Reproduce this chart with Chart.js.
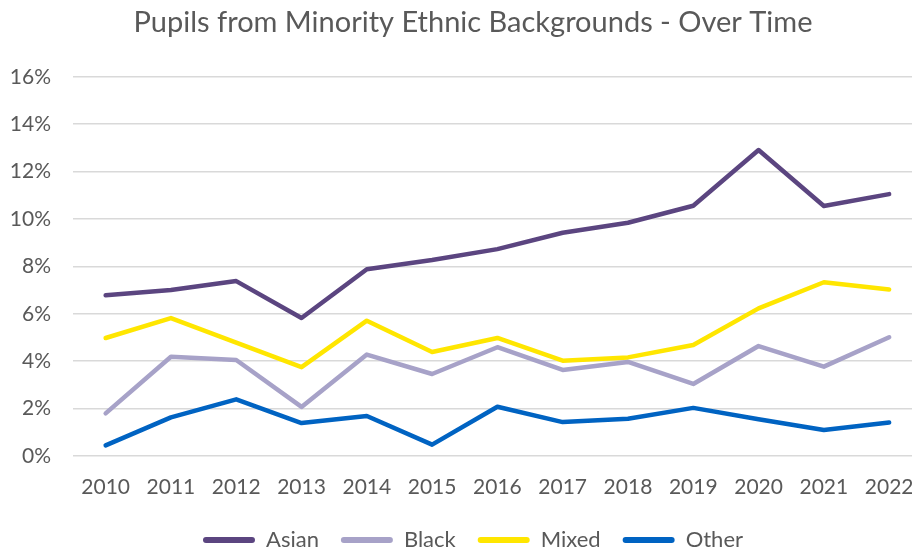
<!DOCTYPE html>
<html>
<head>
<meta charset="utf-8">
<script src="https://cdn.jsdelivr.net/npm/chart.js@4"></script>
<style>
  html, body { margin: 0; padding: 0; background: #ffffff; }
  #wrap { width: 912px; height: 549px; }
</style>
</head>
<body>
<div id="wrap"><canvas id="c" width="912" height="549"></canvas></div>
<script>
const years = [2010, 2011, 2012, 2013, 2014, 2015, 2016, 2017, 2018, 2019, 2020, 2021, 2022];
const asian = [6.78, 7.0, 7.38, 5.82, 7.88, 8.27, 8.73, 9.42, 9.84, 10.56, 12.91, 10.55, 11.05];
const black = [1.80, 4.19, 4.05, 2.07, 4.28, 3.46, 4.59, 3.63, 3.97, 3.04, 4.64, 3.77, 5.01];
const mixed = [4.98, 5.82, 4.78, 3.75, 5.71, 4.39, 4.98, 4.02, 4.16, 4.68, 6.23, 7.33, 7.03];
const other = [0.45, 1.63, 2.39, 1.39, 1.69, 0.48, 2.08, 1.43, 1.57, 2.03, 1.55, 1.10, 1.41];
const yTicks = [0, 2, 4, 6, 8, 10, 12, 14, 16];

const FONT = "Lato, Carlito, 'Liberation Sans', sans-serif";
const TXT = '#595959';

function pts(arr) { return years.map((yr, i) => ({ x: yr, y: arr[i] })); }
function ds(label, arr, color) {
  return {
    label, data: pts(arr), borderColor: color, backgroundColor: color,
    borderWidth: 4.5, pointRadius: 0, tension: 0,
    borderCapStyle: 'round', borderJoinStyle: 'round'
  };
}

// Title and legend in the reference are centred slightly right of the canvas centre
const shiftBlocks = {
  id: 'shiftBlocks',
  afterLayout(chart) {
    const dx = 17;
    [chart.titleBlock, chart.legend].forEach(b => {
      if (b) { b.left += dx; b.right += dx; }
    });
    const lg = chart.legend;
    if (lg) { lg.top -= 2; lg.bottom -= 2; }
  }
};

new Chart(document.getElementById('c'), {
  type: 'line',
  data: {
    datasets: [
      ds('Asian', asian, '#5B4580'),
      ds('Black', black, '#A7A2C8'),
      ds('Mixed', mixed, '#FFE600'),
      ds('Other', other, '#0063C2')
    ]
  },
  plugins: [shiftBlocks],
  options: {
    responsive: false,
    animation: false,
    layout: { padding: 0 },
    plugins: {
      title: {
        display: true,
        text: 'Pupils from Minority Ethnic Backgrounds - Over Time',
        color: TXT,
        font: { family: FONT, size: 29, weight: 'normal' },
        padding: { top: 5, bottom: 37 }
      },
      legend: {
        position: 'bottom',
        maxHeight: 40,
        labels: {
          color: TXT,
          font: { family: FONT, size: 22 },
          boxWidth: 52,
          boxHeight: 6,
          padding: 22,
          useBorderRadius: true,
          borderRadius: 3,
          generateLabels(chart) {
            return chart.data.datasets.map((d, i) => ({
              text: d.label, fillStyle: d.borderColor, strokeStyle: d.borderColor,
              lineWidth: 0, borderRadius: 3, datasetIndex: i, fontColor: TXT
            }));
          }
        }
      },
      tooltip: { enabled: false }
    },
    scales: {
      x: {
        type: 'linear',
        min: 2009.5,
        max: 2022.35,
        grid: { display: false, drawTicks: false },
        border: { display: false },
        afterBuildTicks(scale) { scale.ticks = years.map(v => ({ value: v })); },
        afterFit(scale) { scale.height = 53; scale.paddingLeft = 0; scale.paddingRight = 0; },
        ticks: {
          color: TXT,
          font: { family: FONT, size: 21 },
          padding: 19,
          maxRotation: 0,
          autoSkip: false,
          callback: v => String(v)
        }
      },
      y: {
        min: 0,
        max: 16,
        afterFit(scale) { scale.width = 73; scale.paddingTop = 0; scale.paddingBottom = 0; },
        afterBuildTicks(scale) { scale.ticks = yTicks.map(v => ({ value: v })); },
        grid: { color: '#D9D9D9', lineWidth: 1.5, drawTicks: false },
        border: { display: false },
        ticks: {
          color: TXT,
          font: { family: FONT, size: 21 },
          padding: 22,
          callback: v => v + '%'
        }
      }
    }
  }
});
</script>
</body>
</html>
